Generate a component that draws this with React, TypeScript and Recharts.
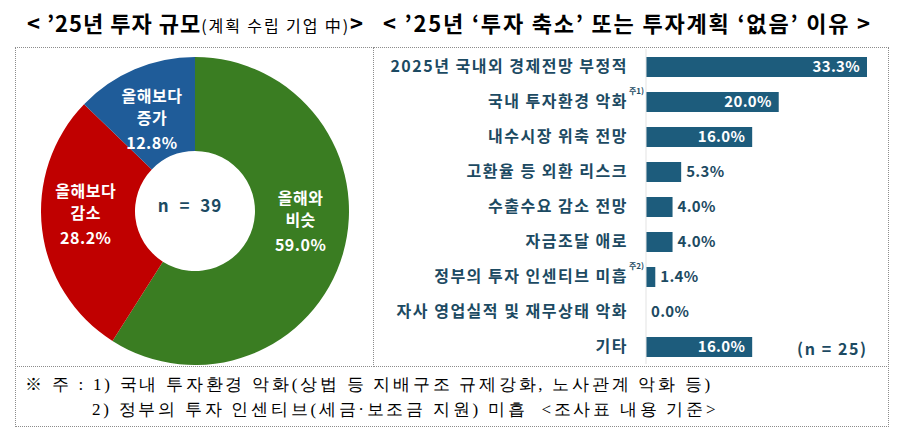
import { Bar, BarChart, Label, LabelList, Pie, PieChart, XAxis, YAxis, Cell } from "recharts";

const shareLines = [
  ["올해와", "비슷"],
  ["올해보다", "감소"],
  ["올해보다", "증가"],
];
const shareValues = [59.0, 28.2, 12.8];
const shareColors = ["#3a7d22", "#c00000", "#1f5c99"];

const reasonLabels = [
  "2025년 국내외 경제전망 부정적",
  "국내 투자환경 악화",
  "내수시장 위축 전망",
  "고환율 등 외환 리스크",
  "수출수요 감소 전망",
  "자금조달 애로",
  "정부의 투자 인센티브 미흡",
  "자사 영업실적 및 재무상태 악화",
  "기타",
];
const reasonNotes = ["", "주1)", "", "", "", "", "주2)", "", ""];
const reasonValues = [33.3, 20.0, 16.0, 5.3, 4.0, 4.0, 1.4, 0.0, 16.0];

const shareData = shareValues.map((value, i) => ({ lines: shareLines[i], value }));
const reasonData = reasonValues.map((value, i) => ({
  name: reasonLabels[i],
  note: reasonNotes[i],
  value,
}));

const font = '"Noto Sans CJK KR", "Noto Sans", sans-serif';
const textColor = "#1c4a62";
const barColor = "#1d5c7c";
const RAD = Math.PI / 180;

function ShareLabel(props: any) {
  const { cx, cy, midAngle, index } = props;
  const r = 110;
  const c = Math.cos(-midAngle * RAD);
  const s = Math.sin(-midAngle * RAD);
  const x = cx + r * c;
  const y = cy + r * s * Math.abs(s);
  const d = shareData[index];
  return (
    <text x={x} y={y} textAnchor="middle" fill="#fff" fontFamily={font} fontSize={16} fontWeight={700} letterSpacing={0.5}>
      <tspan x={x} dy={-22 + 6}>{d.lines[0]}</tspan>
      <tspan x={x} dy={22}>{d.lines[1]}</tspan>
      <tspan x={x} dy={25}>{d.value.toFixed(1)}%</tspan>
    </text>
  );
}

function ReasonTick(props: any) {
  const { x, y, payload, index } = props;
  const note = reasonNotes[index];
  return (
    <g>
      <text x={x} y={y} dy={5} textAnchor="end" fill={textColor} fontFamily={font} fontSize={16} fontWeight={700} letterSpacing={1.5}>
        {payload.value}
      </text>
      {note ? (
        <text x={x + 1} y={y - 8} textAnchor="start" fill={textColor} fontFamily={font} fontSize={8} fontWeight={700}>
          {note}
        </text>
      ) : null}
    </g>
  );
}

function ValueLabel(props: any) {
  const { x, y, width, height, value } = props;
  const inside = value >= 10;
  const w = Math.max(0, Number(width) || 0);
  const tx = inside ? x + w - 7 : x + w + 5;
  return (
    <text
      x={tx}
      y={y + height / 2}
      dy={5}
      textAnchor={inside ? "end" : "start"}
      fill={inside ? "#fff" : textColor}
      fontFamily={font}
      fontSize={15}
      fontWeight={700}
      letterSpacing={0.3}
    >
      {Number(value).toFixed(1)}%
    </text>
  );
}

const box = "1px dotted #8c8c8c";

export default function App() {
  return (
    <div style={{ position: "absolute", left: 0, top: 0, width: 900, height: 441, background: "#fff", fontFamily: font }}>
      <div style={{ position: "absolute", left: 27, top: 9, fontSize: 22, fontWeight: 700, letterSpacing: 1, whiteSpace: "nowrap", lineHeight: "26px", color: "#000" }}>
        {"< ’25년 투자 규모"}
        <span style={{ fontSize: 16, fontWeight: 400, letterSpacing: 1.9 }}>{"(계획 수립 기업 中)"}</span>
        {">"}
      </div>
      <div style={{ position: "absolute", left: 383, top: 9, fontSize: 22, fontWeight: 700, letterSpacing: 1.8, whiteSpace: "nowrap", lineHeight: "26px", color: "#000" }}>
        {"< ’25년 ‘투자 축소’ 또는 투자계획 ‘없음’ 이유 >"}
      </div>

      <div style={{ position: "absolute", left: 15, top: 47, width: 359, height: 320, boxSizing: "border-box", border: box }} />
      <div style={{ position: "absolute", left: 373, top: 47, width: 516, height: 320, boxSizing: "border-box", borderTop: box, borderRight: box, borderBottom: box }} />
      <div style={{ position: "absolute", left: 15, top: 366, width: 874, height: 61, boxSizing: "border-box", borderLeft: box, borderRight: box, borderBottom: box }} />

      <div style={{ position: "absolute", left: 15, top: 47 }}>
        <PieChart width={358} height={318}>
          <Pie
            data={shareData}
            dataKey="value"
            cx={175}
            cy={159}
            innerRadius={60}
            outerRadius={154}
            startAngle={90}
            endAngle={-270}
            stroke="none"
            label={ShareLabel}
            labelLine={false}
            isAnimationActive={false}
          >
            {shareData.map((_, i) => (
              <Cell key={i} fill={shareColors[i]} />
            ))}
            <Label
              position="center"
              content={() => (
                <text x={175} y={159} dy={6} textAnchor="middle" fill={textColor} fontFamily={font} fontSize={17} fontWeight={700} letterSpacing={1} style={{ whiteSpace: "pre" }}>
                  {"n  =  39"}
                </text>
              )}
            />
          </Pie>
        </PieChart>
      </div>

      <div style={{ position: "absolute", left: 373, top: 47 }}>
        <BarChart width={515} height={319} data={reasonData} layout="vertical" margin={{ top: 2, right: 21, bottom: 2, left: 0 }}>
          <XAxis type="number" domain={[0, 33.3]} hide />
          <YAxis
            type="category"
            dataKey="name"
            width={273}
            tickLine={false}
            tickSize={0}
            tickMargin={18}
            axisLine={{ stroke: "#e3e3e3" }}
            tick={ReasonTick}
            interval={0}
          />
          <Bar
            dataKey="value"
            fill={barColor}
            barSize={20}
            minPointSize={(v: number) => (v === 0 ? 0.01 : 0)}
            isAnimationActive={false}
          >
            <LabelList dataKey="value" content={ValueLabel} />
          </Bar>
        </BarChart>
      </div>
      <div style={{ position: "absolute", left: 797, top: 336, fontSize: 16, fontWeight: 700, color: textColor, letterSpacing: 1.6, whiteSpace: "pre" }}>
        {"(n = 25)"}
      </div>

      <div style={{ position: "absolute", left: 25, top: 372, fontFamily: '"Liberation Serif", serif', fontSize: 17, letterSpacing: 2.75, whiteSpace: "pre", lineHeight: "25px", color: "#000" }}>
        {"※ 주 : 1) 국내 투자환경 악화(상법 등 지배구조 규제강화, 노사관계 악화 등)"}
      </div>
      <div style={{ position: "absolute", left: 92, top: 397, fontFamily: '"Liberation Serif", serif', fontSize: 17, letterSpacing: 2.75, whiteSpace: "pre", lineHeight: "25px", color: "#000" }}>
        {"2) 정부의 투자 인센티브(세금·보조금 지원) 미흡  <조사표 내용 기준>"}
      </div>
    </div>
  );
}
